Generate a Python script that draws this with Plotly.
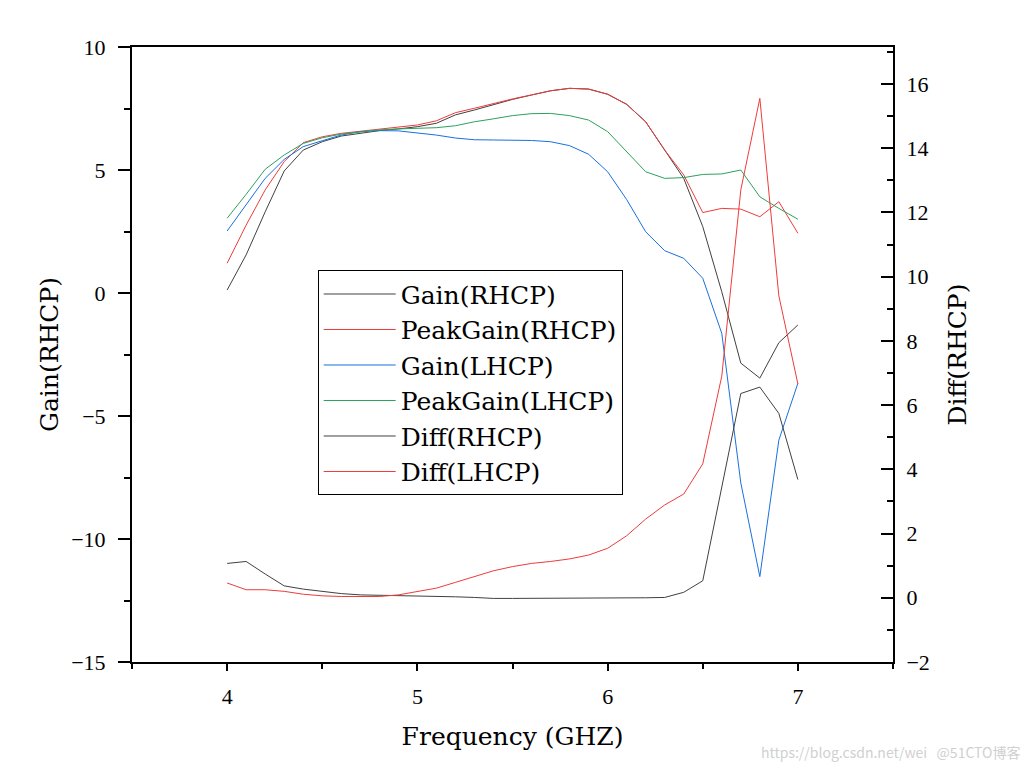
import plotly.graph_objects as go

freq = [4.0, 4.1, 4.2, 4.3, 4.4, 4.5, 4.6, 4.7, 4.8, 4.9,
        5.0, 5.1, 5.2, 5.3, 5.4, 5.5, 5.6, 5.7, 5.8, 5.9,
        6.0, 6.1, 6.2, 6.3, 6.4, 6.5, 6.6, 6.7, 6.8, 6.9, 7.0]

gain_rhcp = [0.12, 1.55, 3.3, 4.96, 5.81, 6.15, 6.38, 6.5, 6.6, 6.67,
             6.76, 6.9, 7.24, 7.44, 7.67, 7.87, 8.05, 8.22, 8.32, 8.29,
             8.08, 7.67, 6.96, 5.8, 4.66, 2.7, 0.05, -2.85, -3.46, -2.02, -1.3]

peak_rhcp = [1.21, 2.76, 4.19, 5.34, 6.11, 6.35, 6.49, 6.57, 6.65, 6.72,
             6.83, 7.0, 7.33, 7.51, 7.71, 7.89, 8.05, 8.22, 8.32, 8.29,
             8.08, 7.67, 6.96, 5.81, 4.8, 3.27, 3.44, 3.41, 3.1, 3.71, 2.43]

gain_lhcp = [2.52, 3.58, 4.66, 5.43, 5.95, 6.19, 6.42, 6.56, 6.6, 6.59,
             6.52, 6.42, 6.3, 6.23, 6.22, 6.22, 6.2, 6.15, 5.99, 5.64,
             4.93, 3.8, 2.49, 1.72, 1.41, 0.6, -1.64, -7.72, -11.53, -5.98, -3.67]

peak_lhcp = [3.04, 4.01, 5.03, 5.61, 6.08, 6.31, 6.46, 6.56, 6.63, 6.67,
             6.69, 6.72, 6.8, 6.96, 7.08, 7.21, 7.29, 7.3, 7.21, 7.03,
             6.56, 5.74, 4.93, 4.66, 4.69, 4.82, 4.84, 5.0, 3.91, 3.44, 3.0]

diff_rhcp = [1.07, 1.13, 0.74, 0.37, 0.27, 0.2, 0.13, 0.09, 0.08, 0.08,
             0.07, 0.06, 0.03, 0.01, -0.02, -0.02, -0.02, -0.02, -0.01, 0.0,
             0.0, 0.0, 0.0, 0.01, 0.17, 0.53, 3.44, 6.36, 6.56, 5.74, 3.68]

diff_lhcp = [0.46, 0.25, 0.25, 0.2, 0.11, 0.06, 0.04, 0.03, 0.04, 0.09,
             0.19, 0.3, 0.48, 0.65, 0.84, 0.97, 1.07, 1.13, 1.21, 1.33,
             1.54, 1.93, 2.45, 2.89, 3.23, 4.17, 6.9, 12.7, 15.55, 9.4, 6.66]

GRAY = "#404040"
RED = "#ef3b3b"
BLUE = "#1a6fe0"
GREEN = "#2ba25c"

series = [
    ("Gain(RHCP)", gain_rhcp, GRAY, "y"),
    ("PeakGain(RHCP)", peak_rhcp, RED, "y"),
    ("Gain(LHCP)", gain_lhcp, BLUE, "y"),
    ("PeakGain(LHCP)", peak_lhcp, GREEN, "y"),
    ("Diff(RHCP)", diff_rhcp, GRAY, "y2"),
    ("Diff(LHCP)", diff_lhcp, RED, "y2"),
]

fig = go.Figure()
for name, vals, color, ax in series:
    fig.add_trace(go.Scatter(x=freq, y=vals, name=name, mode="lines",
                             line=dict(color=color, width=1), yaxis=ax))

tick_font = dict(family="Liberation Serif", size=22, color="black")
title_font = dict(family="DejaVu Serif", size=25, color="black")

fig.update_layout(
    width=1016, height=754,
    margin=dict(l=124, r=131, t=39, b=100),
    paper_bgcolor="white", plot_bgcolor="white",
    showlegend=True,
    legend=dict(x=0.244, y=0.637, xanchor="left", yanchor="top",
                bgcolor="white", bordercolor="black", borderwidth=1,
                font=dict(family="DejaVu Serif", size=25, color="black"),
                itemwidth=72, tracegroupgap=0),
    xaxis=dict(range=[3.5, 7.5], dtick=1, tick0=4, showgrid=False, zeroline=False,
               showline=True, linecolor="black", linewidth=2, mirror=True,
               ticks="outside", ticklen=7, tickwidth=2, tickcolor="black",
               minor=dict(dtick=0.5, ticks="outside", ticklen=5, tickwidth=2, tickcolor="black"),
               tickfont=tick_font, ticklabelstandoff=7,
               title=dict(text="Frequency (GHZ)", font=title_font, standoff=19)),
    yaxis=dict(range=[-15, 10], dtick=5, showgrid=False, zeroline=False,
               showline=True, linecolor="black", linewidth=2,
               ticks="outside", ticklen=12, tickwidth=2, tickcolor="black",
               minor=dict(dtick=2.5, ticks="outside", ticklen=6, tickwidth=2, tickcolor="black"),
               tickfont=tick_font, ticklabelstandoff=8,
               title=dict(text="Gain(RHCP)", font=title_font, standoff=5)),
    yaxis2=dict(range=[-2, 17.15], dtick=2, overlaying="y", side="right",
                showgrid=False, zeroline=False,
                showline=True, linecolor="black", linewidth=2,
                ticks="inside", ticklen=12, tickwidth=2, tickcolor="black",
                minor=dict(dtick=1, ticks="inside", ticklen=6, tickwidth=2, tickcolor="black"),
                tickfont=tick_font, ticklabelstandoff=7,
                title=dict(text="Diff(RHCP)", font=title_font, standoff=20)),
)

fig.add_annotation(text="https://blog.csdn.net/wei   @51CTO博客", xref="paper", yref="paper",
                   x=1.1695, y=-0.146, xanchor="right", yanchor="middle", showarrow=False,
                   font=dict(family="Noto Sans CJK SC", size=14, color="#d0d0d0"))

fig.write_html("out.html")
